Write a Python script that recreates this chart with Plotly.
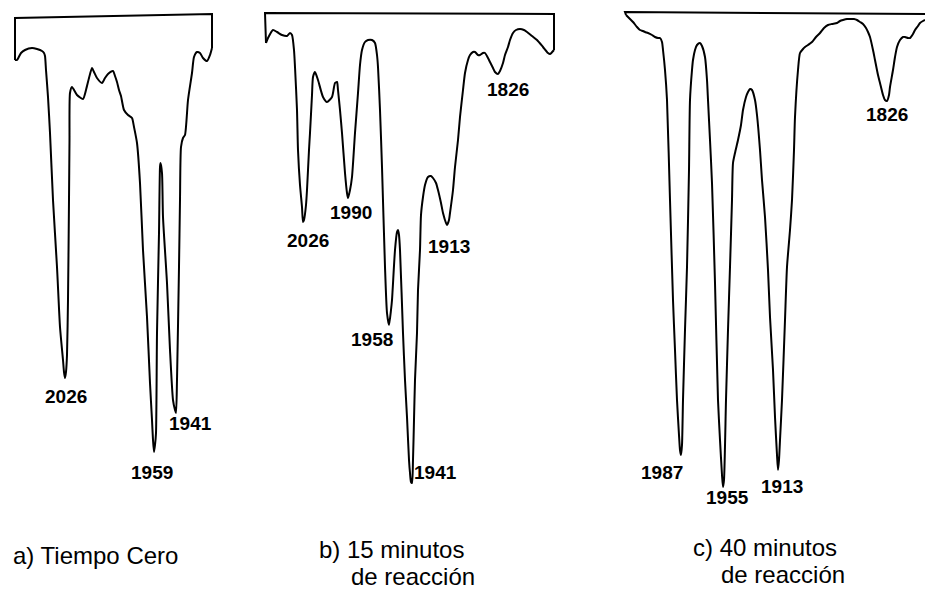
import plotly.graph_objects as go

# ---------------- data (panel-local: x = position from panel frame, y = depth below frame line) -------------
# Panel a) Tiempo Cero
a_frame_x = [0, 0, 197, 197]
a_frame_y = [46, 4, 0, 34]
a_x = [0, 2, 6, 10, 17, 22, 27, 29, 30, 31, 33, 35, 38, 42, 45, 48, 49, 50, 51, 52, 53, 54, 54.5, 55, 57, 62, 68,
       71, 74, 77, 79, 82, 87, 90, 93, 98, 100, 102, 104, 106, 109, 113, 117, 119, 122, 125, 128, 132, 135, 137,
       138, 139, 140, 141, 142, 144, 145, 145.5, 147, 148, 152, 155, 158, 160, 161, 162, 164, 165, 166, 168, 170,
       173, 177, 179, 182, 185, 188, 192, 195, 197]
a_y = [46, 46, 39, 36, 34, 35, 37, 39, 42, 56, 83, 119, 186, 253, 313, 346, 358, 364, 358, 341, 286, 186, 126, 79,
       73, 81, 85, 76, 64, 54, 58, 64, 69, 64, 60, 57, 62, 68, 76, 82, 96, 101, 104, 113, 129, 169, 236, 303, 369,
       406, 426, 438, 431, 419, 319, 219, 153, 149, 159, 203, 269, 336, 386, 396, 399, 366, 253, 186, 133, 124, 121,
       86, 59, 43, 38, 39, 44, 47, 41, 34]
a_peaks = ["2026", "1959", "1941"]
a_peak_x = [51, 137, 175]
a_peak_y = [382, 458, 409]

# Panel b) 15 minutos de reacción
b_frame_x = [1, 0, 289, 289]
b_frame_y = [29, -1, 0, 36]
b_x = [1, 3, 8, 12, 17, 22, 25, 27, 29, 30, 32, 33, 35, 37, 38, 39, 41, 42, 44, 45, 47, 48, 50, 53, 58, 62, 67, 70,
       72, 73, 75, 77, 80, 82, 83, 85, 87, 90, 93, 95, 97, 100, 103, 107, 110, 112, 113, 115, 117, 120, 122, 124,
       126, 127, 130, 132, 133, 134, 135, 138, 140, 142, 144, 145, 146, 147, 148, 149, 150, 152, 153, 155, 156,
       158, 160, 163, 166, 168, 171, 173, 176, 178, 181, 182, 184, 185, 188, 190, 193, 195, 198, 200, 203, 205,
       208, 210, 213, 215, 218, 220, 223, 225, 228, 230, 233, 235, 238, 240, 243, 245, 248, 251, 255, 259, 262,
       267, 272, 278, 283, 285, 289]
b_y = [29, 24, 16, 18, 21, 22, 19, 21, 36, 53, 96, 136, 171, 193, 208, 206, 191, 176, 136, 119, 81, 63, 58, 66, 83,
       88, 83, 69, 68, 76, 96, 119, 159, 179, 184, 176, 163, 119, 79, 51, 36, 28, 26, 26, 29, 41, 53, 96, 153, 253,
       299, 311, 296, 286, 236, 218, 216, 221, 236, 319, 366, 403, 446, 459, 468, 469, 446, 406, 366, 319, 276, 236,
       201, 183, 171, 163, 162, 164, 169, 176, 189, 199, 209, 211, 206, 199, 176, 153, 126, 103, 76, 59, 46, 41, 38,
       38, 41, 41, 39, 39, 44, 48, 54, 58, 60, 57, 49, 41, 33, 26, 19, 16, 15, 16, 18, 22, 26, 33, 39, 40, 36]
b_peaks = ["2026", "1990", "1958", "1941", "1913", "1826"]
b_peak_x = [43, 86, 107, 170, 184, 243]
b_peak_y = [226, 198, 325, 458, 232, 75]

# Panel c) 40 minutos de reacción
c_frame_x = [1, 0, 300]
c_frame_y = [1, -2, 0]
c_x = [1, 5, 8, 12, 15, 18, 20, 23, 27, 30, 33, 35, 37, 38, 40, 42, 45, 48, 50, 52, 54, 55, 56, 57, 58, 60, 62, 64,
       65, 67, 68, 70, 72, 75, 77, 80, 82, 83, 85, 87, 90, 93, 95, 97, 98, 99, 101, 103, 105, 107, 108, 110, 113,
       116, 118, 121, 123, 125, 127, 130, 132, 135, 137, 140, 143, 145, 148, 150, 152, 153, 154, 155, 157, 160,
       162, 165, 167, 169, 170, 173, 175, 178, 180, 183, 187, 191, 195, 199, 203, 207, 212, 215, 218, 222, 225,
       229, 232, 235, 238, 241, 243, 245, 248, 250, 253, 255, 258, 260, 262, 264, 265, 268, 270, 272, 275, 278,
       280, 283, 285, 288, 290, 293, 295, 298, 300]
c_y = [1, 5, 8, 13, 16, 17, 18, 19, 21, 23, 24, 24, 28, 36, 56, 86, 186, 286, 336, 386, 421, 436, 441, 431, 386,
       316, 253, 156, 86, 56, 46, 36, 31, 29, 32, 43, 66, 86, 126, 169, 269, 386, 426, 461, 473, 466, 386, 316, 253,
       186, 149, 139, 126, 111, 96, 83, 78, 75, 76, 86, 101, 136, 166, 203, 256, 303, 356, 403, 441, 456, 446, 426,
       386, 306, 253, 216, 186, 136, 103, 56, 39, 35, 33, 31, 28, 23, 19, 14, 11, 10, 9, 7, 6, 5, 5, 5, 6, 8, 10,
       14, 18, 23, 36, 46, 61, 69, 81, 86, 87, 81, 73, 56, 43, 33, 26, 23, 23, 24, 24, 20, 16, 12, 9, 7, 6]
c_peaks = ["1987", "1955", "1913", "1826"]
c_peak_x = [37, 102, 157, 262]
c_peak_y = [458, 483, 472, 100]

caption_lines = [["a) Tiempo Cero"], ["b) 15 minutos", "de reacción"], ["c) 40 minutos", "de reacción"]]

# ---------------- layout constants -------------
W, H = 925, 590
panel_left = [15, 265, 625]   # pixel position of each panel's frame
frame_top = 14
line_style = dict(color="black", width=2)
label_font = dict(family="Liberation Sans, Arial, sans-serif", size=19, color="black", weight="bold")
caption_font = dict(family="Liberation Sans, Arial, sans-serif", size=24, color="black")
# pixel (left, middle-y) for each caption line
caption_pos = [[(12, 555)], [(318, 549), (350, 576)], [(692, 547), (720, 574)]]

fig = go.Figure()
panels = [
    (a_frame_x, a_frame_y, a_x, a_y, a_peaks, a_peak_x, a_peak_y),
    (b_frame_x, b_frame_y, b_x, b_y, b_peaks, b_peak_x, b_peak_y),
    (c_frame_x, c_frame_y, c_x, c_y, c_peaks, c_peak_x, c_peak_y),
]
annotations = []
for i, (fx, fy, sx, sy, names, px, py) in enumerate(panels):
    xa = "x" if i == 0 else f"x{i+1}"
    fig.add_trace(go.Scatter(x=fx, y=fy, mode="lines", line=line_style, xaxis=xa, yaxis="y",
                             hoverinfo="skip", showlegend=False))
    fig.add_trace(go.Scatter(x=sx, y=sy, mode="lines", line=dict(line_style, shape="spline", smoothing=0.6),
                             xaxis=xa, yaxis="y", hoverinfo="skip", showlegend=False))
    for n, xx, yy in zip(names, px, py):
        annotations.append(dict(text=n, x=xx, y=yy, xref=xa, yref="y", showarrow=False,
                                font=label_font, xanchor="center", yanchor="middle"))

for lines, poss in zip(caption_lines, caption_pos):
    for txt, (cx, cy) in zip(lines, poss):
        annotations.append(dict(text=txt, x=cx / W, y=1 - cy / H, xref="paper", yref="paper", showarrow=False,
                                font=caption_font, xanchor="left", yanchor="middle", align="left",
                                borderpad=0))

axis_common = dict(visible=False, showgrid=False, zeroline=False, fixedrange=True)
layout = dict(
    width=W, height=H, margin=dict(l=0, r=0, t=0, b=0),
    paper_bgcolor="white", plot_bgcolor="white",
    yaxis=dict(axis_common, range=[H - frame_top, -frame_top], domain=[0, 1]),
    annotations=annotations, showlegend=False,
)
for i, pl in enumerate(panel_left):
    key = "xaxis" if i == 0 else f"xaxis{i+1}"
    ax = dict(axis_common, range=[-pl, W - pl], domain=[0, 1], anchor="y")
    if i > 0:
        ax["overlaying"] = "x"
    layout[key] = ax
fig.update_layout(**layout)
fig.write_html("out.html", config={"displayModeBar": False, "staticPlot": True},
               post_script="document.body.style.margin='0';document.body.style.overflow='hidden';")
